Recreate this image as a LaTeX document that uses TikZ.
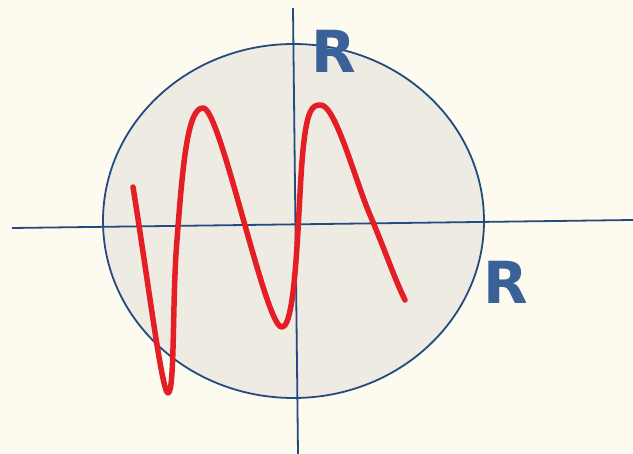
\documentclass[tikz,border=0pt]{standalone}
\usepackage{fontspec}
\newfontfamily\labelfont{DejaVu Sans}
\usetikzlibrary{arrows.meta, positioning, shapes.geometric}

\definecolor{paper}{HTML}{FDFBEF}
\definecolor{discfill}{HTML}{EDEBE2}
\definecolor{axisblue}{HTML}{244A80}
\definecolor{letterblue}{HTML}{3A6298}
\definecolor{wavered}{HTML}{E31E24}

\tikzset{
  axisline/.style={draw=axisblue, line width=1.8pt},
  rlabel/.style={text=letterblue, font=\labelfont\bfseries\fontsize{58}{58}\selectfont, inner sep=0pt},
  wave/.style={draw=wavered, line width=5.5pt, line cap=round, line join=round}
}

\begin{document}
\begin{tikzpicture}[x=1pt, y=-1pt]
    \fill[paper] (0,0) rectangle (633,454);
    \useasboundingbox (0,0) rectangle (633,454);
    % disc
    \node[ellipse, draw=axisblue, fill=discfill, line width=1.8pt, minimum width=381pt, minimum height=354pt, inner sep=0pt] (disc) at (293.5,221) {};
    % axes
    \coordinate (xleft) at (12,228);
    \coordinate (xright) at (633,220);
    \coordinate (ytop) at (293,8);
    \coordinate (ybottom) at (298,454);
    \draw[axisline] (xleft) -- (xright);
    \draw[axisline] (ytop) -- (ybottom);
    % labels
    \node[rlabel] (rtop) at (333.5,51) {R};
    \node[rlabel] (rright) at (506,282) {R};
    % curve
    \draw[wave] (133,187) .. controls (148,280) and (162,393) .. (168,393)
        .. controls (175,393) and (172,300) .. (177,240)
        .. controls (183,160) and (188,108) .. (203,108)
        .. controls (220,106) and (266,330) .. (282,327)
        .. controls (297,327) and (298,200) .. (303,150)
        .. controls (307,110) and (312,105) .. (320,105)
        .. controls (335,103) and (355,180) .. (370,215)
        .. controls (383,245) and (395,280) .. (405,300);
\end{tikzpicture}
\end{document}
